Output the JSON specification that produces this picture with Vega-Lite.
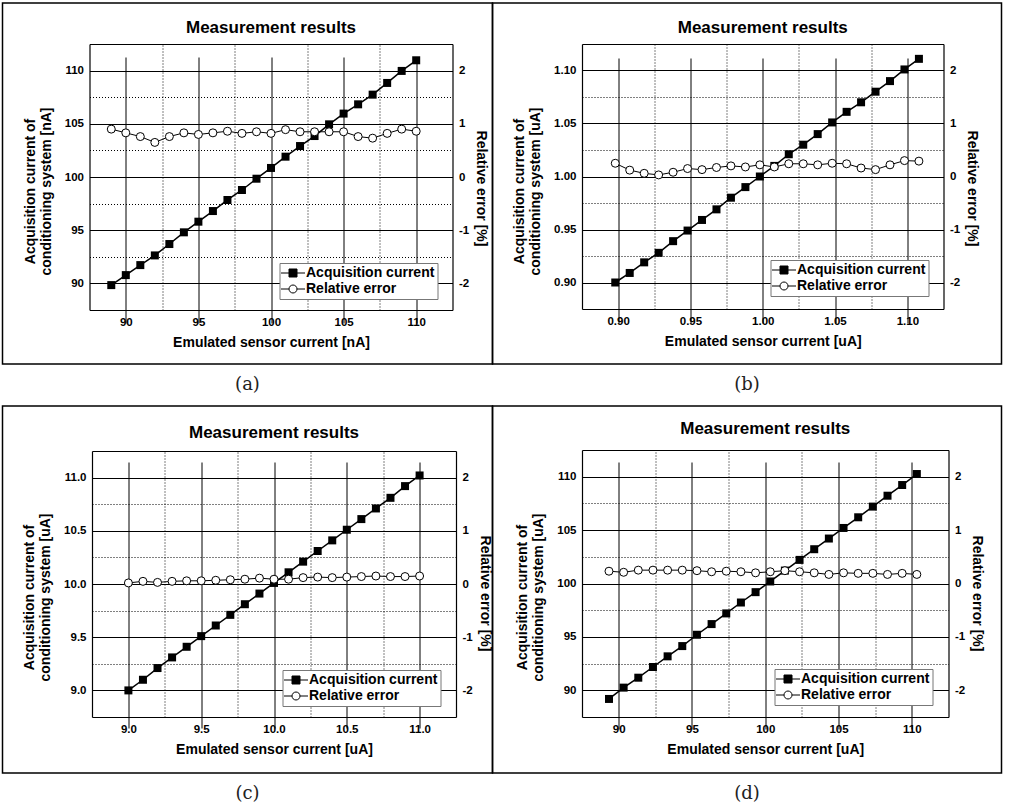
{
  "$schema": "https://vega.github.io/schema/vega-lite/v6.json",
  "padding": {"left": 1.5, "top": 2, "right": 0, "bottom": 0},
  "datasets": {
    "a": [
      {"x": 89, "acq": 89.84, "err": 0.90}, {"x": 90, "acq": 90.78, "err": 0.83}, {"x": 91, "acq": 91.72, "err": 0.76},
      {"x": 92, "acq": 92.63, "err": 0.65}, {"x": 93, "acq": 93.70, "err": 0.76}, {"x": 94, "acq": 94.80, "err": 0.83},
      {"x": 95, "acq": 95.80, "err": 0.80}, {"x": 96, "acq": 96.80, "err": 0.83}, {"x": 97, "acq": 97.84, "err": 0.86},
      {"x": 98, "acq": 98.78, "err": 0.82}, {"x": 99, "acq": 99.84, "err": 0.85}, {"x": 100, "acq": 100.85, "err": 0.82},
      {"x": 101, "acq": 101.91, "err": 0.89}, {"x": 102, "acq": 102.91, "err": 0.85}, {"x": 103, "acq": 103.85, "err": 0.85},
      {"x": 104, "acq": 104.95, "err": 0.85}, {"x": 105, "acq": 105.96, "err": 0.85}, {"x": 106, "acq": 106.83, "err": 0.76},
      {"x": 107, "acq": 107.74, "err": 0.73}, {"x": 108, "acq": 108.84, "err": 0.82}, {"x": 109, "acq": 109.97, "err": 0.90},
      {"x": 110, "acq": 110.97, "err": 0.86}
    ],
    "b": [
      {"x": 0.898, "acq": 0.900, "err": 0.25}, {"x": 0.908, "acq": 0.909, "err": 0.12}, {"x": 0.918, "acq": 0.919, "err": 0.06},
      {"x": 0.928, "acq": 0.928, "err": 0.03}, {"x": 0.938, "acq": 0.939, "err": 0.08}, {"x": 0.948, "acq": 0.949, "err": 0.15},
      {"x": 0.958, "acq": 0.959, "err": 0.13}, {"x": 0.968, "acq": 0.969, "err": 0.17}, {"x": 0.978, "acq": 0.980, "err": 0.20},
      {"x": 0.988, "acq": 0.990, "err": 0.18}, {"x": 0.998, "acq": 1.000, "err": 0.22}, {"x": 1.008, "acq": 1.010, "err": 0.18},
      {"x": 1.018, "acq": 1.021, "err": 0.24}, {"x": 1.028, "acq": 1.030, "err": 0.24}, {"x": 1.038, "acq": 1.040, "err": 0.22},
      {"x": 1.048, "acq": 1.051, "err": 0.25}, {"x": 1.058, "acq": 1.061, "err": 0.24}, {"x": 1.068, "acq": 1.070, "err": 0.16},
      {"x": 1.078, "acq": 1.080, "err": 0.13}, {"x": 1.088, "acq": 1.090, "err": 0.22}, {"x": 1.098, "acq": 1.101, "err": 0.30},
      {"x": 1.108, "acq": 1.111, "err": 0.29}
    ],
    "c": [
      {"x": 9.0, "acq": 9.00, "err": 0.02}, {"x": 9.1, "acq": 9.10, "err": 0.05}, {"x": 9.2, "acq": 9.21, "err": 0.03},
      {"x": 9.3, "acq": 9.31, "err": 0.05}, {"x": 9.4, "acq": 9.41, "err": 0.06}, {"x": 9.5, "acq": 9.51, "err": 0.06},
      {"x": 9.6, "acq": 9.61, "err": 0.07}, {"x": 9.7, "acq": 9.71, "err": 0.08}, {"x": 9.8, "acq": 9.81, "err": 0.09},
      {"x": 9.9, "acq": 9.91, "err": 0.11}, {"x": 10.0, "acq": 10.01, "err": 0.09}, {"x": 10.1, "acq": 10.11, "err": 0.09},
      {"x": 10.2, "acq": 10.21, "err": 0.12}, {"x": 10.3, "acq": 10.31, "err": 0.13}, {"x": 10.4, "acq": 10.41, "err": 0.12},
      {"x": 10.5, "acq": 10.51, "err": 0.13}, {"x": 10.6, "acq": 10.61, "err": 0.14}, {"x": 10.7, "acq": 10.71, "err": 0.15},
      {"x": 10.8, "acq": 10.81, "err": 0.14}, {"x": 10.9, "acq": 10.92, "err": 0.14}, {"x": 11.0, "acq": 11.02, "err": 0.15}
    ],
    "d": [
      {"x": 89.34, "acq": 89.19, "err": 0.23}, {"x": 90.34, "acq": 90.25, "err": 0.21}, {"x": 91.34, "acq": 91.18, "err": 0.25},
      {"x": 92.34, "acq": 92.18, "err": 0.25}, {"x": 93.34, "acq": 93.18, "err": 0.25}, {"x": 94.34, "acq": 94.14, "err": 0.25},
      {"x": 95.34, "acq": 95.20, "err": 0.24}, {"x": 96.34, "acq": 96.20, "err": 0.22}, {"x": 97.34, "acq": 97.20, "err": 0.23},
      {"x": 98.34, "acq": 98.22, "err": 0.22}, {"x": 99.34, "acq": 99.19, "err": 0.20}, {"x": 100.34, "acq": 100.19, "err": 0.22},
      {"x": 101.34, "acq": 101.21, "err": 0.24}, {"x": 102.34, "acq": 102.21, "err": 0.22}, {"x": 103.34, "acq": 103.21, "err": 0.20},
      {"x": 104.34, "acq": 104.21, "err": 0.17}, {"x": 105.34, "acq": 105.20, "err": 0.20}, {"x": 106.34, "acq": 106.20, "err": 0.19},
      {"x": 107.34, "acq": 107.20, "err": 0.19}, {"x": 108.34, "acq": 108.22, "err": 0.17}, {"x": 109.34, "acq": 109.22, "err": 0.19},
      {"x": 110.34, "acq": 110.25, "err": 0.17}
    ],
    "legend": [{"series": "Acquisition current"}, {"series": "Relative error"}]
  },
  "spacing": 0,
  "resolve": {"scale": {"shape": "independent", "fill": "independent", "stroke": "independent"}},
  "vconcat": [
    {
      "spacing": 0, "bounds": "flush",
      "resolve": {"scale": {"shape": "independent", "fill": "independent", "stroke": "independent"}},
      "hconcat": [
        {
          "width": 490, "height": 361,
          "data": {"name": "a"},
          "title": {"text": "Measurement results", "dx": 23.5, "offset": -34},
          "layer": [
            {"mark": {"type": "line", "color": "black", "strokeWidth": 1.5},
             "encoding": {
               "x": {"field": "x", "type": "quantitative", "scale": {"domain": [87.5, 112.5], "range": [87, 450], "nice": false, "zero": false},
                     "axis": {"orient": "bottom", "offset": -54, "values": [90, 95, 100, 105, 110], "grid": true, "title": "Emulated sensor current [nA]"}},
               "y": {"field": "acq", "type": "quantitative", "scale": {"domain": [87.5, 112.5], "range": [307, 41], "nice": false, "zero": false},
                     "axis": {"orient": "left", "offset": -87, "values": [90, 95, 100, 105, 110], "grid": true, "title": ["Acquisition current of", "conditioning system [nA]"], "titleY": 188, "titlePadding": 11}}}},
            {"mark": {"type": "point", "shape": "square", "filled": true, "color": "black", "size": 64, "opacity": 1},
             "encoding": {
               "x": {"field": "x", "type": "quantitative", "scale": {"domain": [87.5, 112.5], "range": [87, 450], "nice": false, "zero": false}, "axis": null},
               "y": {"field": "acq", "type": "quantitative", "scale": {"domain": [87.5, 112.5], "range": [307, 41], "nice": false, "zero": false},
                     "axis": {"orient": "left", "offset": -87, "values": [92.5, 97.5, 102.5, 107.5], "grid": true, "gridDash": [1, 2], "labels": false, "domain": false, "title": null}}}},
            {"mark": {"type": "line", "color": "black", "strokeWidth": 1},
             "encoding": {
               "x": {"field": "x", "type": "quantitative", "scale": {"domain": [87.5, 112.5], "range": [87, 450], "nice": false, "zero": false},
                     "axis": {"orient": "top", "offset": -41, "values": [92.5, 97.5, 102.5, 107.5], "grid": true, "gridDash": [1, 2], "labels": false, "title": null}},
               "y": {"field": "err", "type": "quantitative", "scale": {"domain": [-2.5, 2.5], "range": [307, 41], "nice": false, "zero": false},
                     "axis": {"orient": "right", "offset": -40, "values": [-2, -1, 0, 1, 2], "labelExpr": "'' + datum.value", "grid": false, "title": "Relative error [%]", "titleY": 185, "titlePadding": 5}}}},
            {"mark": {"type": "point", "shape": "circle", "filled": true, "fill": "white", "stroke": "black", "strokeWidth": 1, "size": 64, "opacity": 1},
             "encoding": {
               "x": {"field": "x", "type": "quantitative", "scale": {"domain": [87.5, 112.5], "range": [87, 450], "nice": false, "zero": false}, "axis": null},
               "y": {"field": "err", "type": "quantitative", "scale": {"domain": [-2.5, 2.5], "range": [307, 41], "nice": false, "zero": false}, "axis": null}}},
            {"data": {"name": "legend"},
             "transform": [{"filter": "false"}],
             "mark": {"type": "point", "filled": true, "strokeWidth": 1, "opacity": 1},
             "encoding": {
               "shape": {"field": "series", "type": "nominal", "scale": {"domain": ["Acquisition current", "Relative error"], "range": ["M-3,0H3M-1,-1H1V1H-1Z", "M-3,0H-1M1,0H3M-1,0A1,1,0,1,1,1,0A1,1,0,1,1,-1,0Z"]},
                         "legend": {"orient": "none", "legendX": 277, "legendY": 260, "title": null}},
               "fill": {"field": "series", "type": "nominal", "scale": {"domain": ["Acquisition current", "Relative error"], "range": ["black", "white"]},
                        "legend": {"orient": "none", "legendX": 277, "legendY": 260, "title": null}},
               "stroke": {"field": "series", "type": "nominal", "scale": {"domain": ["Acquisition current", "Relative error"], "range": ["black", "black"]},
                        "legend": {"orient": "none", "legendX": 277, "legendY": 260, "title": null}}}}
          ],
          "resolve": {"scale": {"x": "independent", "y": "independent"}}
        },
        {
          "width": 509, "height": 361,
          "data": {"name": "b"},
          "title": {"text": "Measurement results", "dx": 15.75, "offset": -34},
          "layer": [
            {"mark": {"type": "line", "color": "black", "strokeWidth": 1.5},
             "encoding": {
               "x": {"field": "x", "type": "quantitative", "scale": {"domain": [0.875, 1.125], "range": [89.5, 451], "nice": false, "zero": false},
                     "axis": {"orient": "bottom", "offset": -55, "values": [0.9, 0.95, 1.0, 1.05, 1.1], "format": ".2f", "grid": true, "title": "Emulated sensor current [uA]"}},
               "y": {"field": "acq", "type": "quantitative", "scale": {"domain": [0.875, 1.125], "range": [306, 41], "nice": false, "zero": false},
                     "axis": {"orient": "left", "offset": -89.5, "values": [0.9, 0.95, 1.0, 1.05, 1.1], "format": ".2f", "grid": true, "title": ["Acquisition current of", "conditioning system [uA]"], "titleY": 188, "titlePadding": 11}}}},
            {"mark": {"type": "point", "shape": "square", "filled": true, "color": "black", "size": 64, "opacity": 1},
             "encoding": {
               "x": {"field": "x", "type": "quantitative", "scale": {"domain": [0.875, 1.125], "range": [89.5, 451], "nice": false, "zero": false}, "axis": null},
               "y": {"field": "acq", "type": "quantitative", "scale": {"domain": [0.875, 1.125], "range": [306, 41], "nice": false, "zero": false},
                     "axis": {"orient": "left", "offset": -89.5, "values": [0.925, 0.975, 1.025, 1.075], "grid": true, "gridDash": [1, 2], "labels": false, "domain": false, "title": null}}}},
            {"mark": {"type": "line", "color": "black", "strokeWidth": 1},
             "encoding": {
               "x": {"field": "x", "type": "quantitative", "scale": {"domain": [0.875, 1.125], "range": [89.5, 451], "nice": false, "zero": false},
                     "axis": {"orient": "top", "offset": -41, "values": [0.925, 0.975, 1.025, 1.075], "grid": true, "gridDash": [1, 2], "labels": false, "title": null}},
               "y": {"field": "err", "type": "quantitative", "scale": {"domain": [-2.5, 2.5], "range": [306, 41], "nice": false, "zero": false},
                     "axis": {"orient": "right", "offset": -58, "values": [-2, -1, 0, 1, 2], "labelExpr": "'' + datum.value", "grid": false, "title": "Relative error [%]", "titleY": 185, "titlePadding": 5}}}},
            {"mark": {"type": "point", "shape": "circle", "filled": true, "fill": "white", "stroke": "black", "strokeWidth": 1, "size": 64, "opacity": 1},
             "encoding": {
               "x": {"field": "x", "type": "quantitative", "scale": {"domain": [0.875, 1.125], "range": [89.5, 451], "nice": false, "zero": false}, "axis": null},
               "y": {"field": "err", "type": "quantitative", "scale": {"domain": [-2.5, 2.5], "range": [306, 41], "nice": false, "zero": false}, "axis": null}}},
            {"data": {"name": "legend"},
             "transform": [{"filter": "false"}],
             "mark": {"type": "point", "filled": true, "strokeWidth": 1, "opacity": 1},
             "encoding": {
               "shape": {"field": "series", "type": "nominal", "scale": {"domain": ["Acquisition current", "Relative error"], "range": ["M-3,0H3M-1,-1H1V1H-1Z", "M-3,0H-1M1,0H3M-1,0A1,1,0,1,1,1,0A1,1,0,1,1,-1,0Z"]},
                         "legend": {"orient": "none", "legendX": 278, "legendY": 257, "title": null}},
               "fill": {"field": "series", "type": "nominal", "scale": {"domain": ["Acquisition current", "Relative error"], "range": ["black", "white"]},
                        "legend": {"orient": "none", "legendX": 278, "legendY": 257, "title": null}},
               "stroke": {"field": "series", "type": "nominal", "scale": {"domain": ["Acquisition current", "Relative error"], "range": ["black", "black"]},
                        "legend": {"orient": "none", "legendX": 278, "legendY": 257, "title": null}}}}
          ],
          "resolve": {"scale": {"x": "independent", "y": "independent"}}
        }
      ]
    },
    {
      "spacing": 0, "bounds": "flush",
      "hconcat": [
        {"width": 490, "height": 40, "data": {"values": [{"label": "(a)"}]},
         "mark": {"type": "text", "font": "DejaVu Serif", "fontSize": 18, "color": "#222"},
         "encoding": {"text": {"field": "label", "type": "nominal"}}},
        {"width": 509, "height": 40, "data": {"values": [{"label": "(b)"}]},
         "mark": {"type": "text", "font": "DejaVu Serif", "fontSize": 18, "color": "#222"},
         "encoding": {"text": {"field": "label", "type": "nominal"}}}
      ]
    },
    {
      "spacing": 0, "bounds": "flush",
      "resolve": {"scale": {"shape": "independent", "fill": "independent", "stroke": "independent"}},
      "hconcat": [
        {
          "width": 490, "height": 367,
          "data": {"name": "c"},
          "title": {"text": "Measurement results", "dx": 26.5, "offset": -36},
          "layer": [
            {"mark": {"type": "line", "color": "black", "strokeWidth": 1.5},
             "encoding": {
               "x": {"field": "x", "type": "quantitative", "scale": {"domain": [8.75, 11.25], "range": [89.5, 453.5], "nice": false, "zero": false},
                     "axis": {"orient": "bottom", "offset": -56, "values": [9.0, 9.5, 10.0, 10.5, 11.0], "format": ".1f", "grid": true, "title": "Emulated sensor current [uA]"}},
               "y": {"field": "acq", "type": "quantitative", "scale": {"domain": [8.75, 11.25], "range": [311, 45], "nice": false, "zero": false},
                     "axis": {"orient": "left", "offset": -89.5, "values": [9.0, 9.5, 10.0, 10.5, 11.0], "format": ".1f", "grid": true, "title": ["Acquisition current of", "conditioning system [uA]"], "titleY": 191, "titlePadding": 11}}}},
            {"mark": {"type": "point", "shape": "square", "filled": true, "color": "black", "size": 64, "opacity": 1},
             "encoding": {
               "x": {"field": "x", "type": "quantitative", "scale": {"domain": [8.75, 11.25], "range": [89.5, 453.5], "nice": false, "zero": false}, "axis": null},
               "y": {"field": "acq", "type": "quantitative", "scale": {"domain": [8.75, 11.25], "range": [311, 45], "nice": false, "zero": false},
                     "axis": {"orient": "left", "offset": -89.5, "values": [9.25, 9.75, 10.25, 10.75], "grid": true, "gridDash": [1, 2], "labels": false, "domain": false, "title": null}}}},
            {"mark": {"type": "line", "color": "black", "strokeWidth": 1},
             "encoding": {
               "x": {"field": "x", "type": "quantitative", "scale": {"domain": [8.75, 11.25], "range": [89.5, 453.5], "nice": false, "zero": false},
                     "axis": {"orient": "top", "offset": -45, "values": [9.25, 9.75, 10.25, 10.75], "grid": true, "gridDash": [1, 2], "labels": false, "title": null}},
               "y": {"field": "err", "type": "quantitative", "scale": {"domain": [-2.5, 2.5], "range": [311, 45], "nice": false, "zero": false},
                     "axis": {"orient": "right", "offset": -36.5, "values": [-2, -1, 0, 1, 2], "labelExpr": "'' + datum.value", "grid": false, "title": "Relative error [%]", "titleY": 187, "titlePadding": 5}}}},
            {"mark": {"type": "point", "shape": "circle", "filled": true, "fill": "white", "stroke": "black", "strokeWidth": 1, "size": 64, "opacity": 1},
             "encoding": {
               "x": {"field": "x", "type": "quantitative", "scale": {"domain": [8.75, 11.25], "range": [89.5, 453.5], "nice": false, "zero": false}, "axis": null},
               "y": {"field": "err", "type": "quantitative", "scale": {"domain": [-2.5, 2.5], "range": [311, 45], "nice": false, "zero": false}, "axis": null}}},
            {"data": {"name": "legend"},
             "transform": [{"filter": "false"}],
             "mark": {"type": "point", "filled": true, "strokeWidth": 1, "opacity": 1},
             "encoding": {
               "shape": {"field": "series", "type": "nominal", "scale": {"domain": ["Acquisition current", "Relative error"], "range": ["M-3,0H3M-1,-1H1V1H-1Z", "M-3,0H-1M1,0H3M-1,0A1,1,0,1,1,1,0A1,1,0,1,1,-1,0Z"]},
                         "legend": {"orient": "none", "legendX": 280, "legendY": 264, "title": null}},
               "fill": {"field": "series", "type": "nominal", "scale": {"domain": ["Acquisition current", "Relative error"], "range": ["black", "white"]},
                        "legend": {"orient": "none", "legendX": 280, "legendY": 264, "title": null}},
               "stroke": {"field": "series", "type": "nominal", "scale": {"domain": ["Acquisition current", "Relative error"], "range": ["black", "black"]},
                        "legend": {"orient": "none", "legendX": 280, "legendY": 264, "title": null}}}}
          ],
          "resolve": {"scale": {"x": "independent", "y": "independent"}}
        },
        {
          "width": 509, "height": 367,
          "data": {"name": "d"},
          "title": {"text": "Measurement results", "dx": 18.25, "offset": -32},
          "layer": [
            {"mark": {"type": "line", "color": "black", "strokeWidth": 1.5},
             "encoding": {
               "x": {"field": "x", "type": "quantitative", "scale": {"domain": [87.5, 112.5], "range": [89.5, 456], "nice": false, "zero": false},
                     "axis": {"orient": "bottom", "offset": -56, "values": [90, 95, 100, 105, 110], "grid": true, "title": "Emulated sensor current [uA]"}},
               "y": {"field": "acq", "type": "quantitative", "scale": {"domain": [87.5, 112.5], "range": [311, 44], "nice": false, "zero": false},
                     "axis": {"orient": "left", "offset": -89.5, "values": [90, 95, 100, 105, 110], "grid": true, "title": ["Acquisition current of", "conditioning system [uA]"], "titleY": 191, "titlePadding": 11}}}},
            {"mark": {"type": "point", "shape": "square", "filled": true, "color": "black", "size": 64, "opacity": 1},
             "encoding": {
               "x": {"field": "x", "type": "quantitative", "scale": {"domain": [87.5, 112.5], "range": [89.5, 456], "nice": false, "zero": false}, "axis": null},
               "y": {"field": "acq", "type": "quantitative", "scale": {"domain": [87.5, 112.5], "range": [311, 44], "nice": false, "zero": false},
                     "axis": {"orient": "left", "offset": -89.5, "values": [92.5, 97.5, 102.5, 107.5], "grid": true, "gridDash": [1, 2], "labels": false, "domain": false, "title": null}}}},
            {"mark": {"type": "line", "color": "black", "strokeWidth": 1},
             "encoding": {
               "x": {"field": "x", "type": "quantitative", "scale": {"domain": [87.5, 112.5], "range": [89.5, 456], "nice": false, "zero": false},
                     "axis": {"orient": "top", "offset": -44, "values": [92.5, 97.5, 102.5, 107.5], "grid": true, "gridDash": [1, 2], "labels": false, "title": null}},
               "y": {"field": "err", "type": "quantitative", "scale": {"domain": [-2.5, 2.5], "range": [311, 44], "nice": false, "zero": false},
                     "axis": {"orient": "right", "offset": -53, "values": [-2, -1, 0, 1, 2], "labelExpr": "'' + datum.value", "grid": false, "title": "Relative error [%]", "titleY": 187, "titlePadding": 5}}}},
            {"mark": {"type": "point", "shape": "circle", "filled": true, "fill": "white", "stroke": "black", "strokeWidth": 1, "size": 64, "opacity": 1},
             "encoding": {
               "x": {"field": "x", "type": "quantitative", "scale": {"domain": [87.5, 112.5], "range": [89.5, 456], "nice": false, "zero": false}, "axis": null},
               "y": {"field": "err", "type": "quantitative", "scale": {"domain": [-2.5, 2.5], "range": [311, 44], "nice": false, "zero": false}, "axis": null}}},
            {"data": {"name": "legend"},
             "transform": [{"filter": "false"}],
             "mark": {"type": "point", "filled": true, "strokeWidth": 1, "opacity": 1},
             "encoding": {
               "shape": {"field": "series", "type": "nominal", "scale": {"domain": ["Acquisition current", "Relative error"], "range": ["M-3,0H3M-1,-1H1V1H-1Z", "M-3,0H-1M1,0H3M-1,0A1,1,0,1,1,1,0A1,1,0,1,1,-1,0Z"]},
                         "legend": {"orient": "none", "legendX": 282, "legendY": 263, "title": null}},
               "fill": {"field": "series", "type": "nominal", "scale": {"domain": ["Acquisition current", "Relative error"], "range": ["black", "white"]},
                        "legend": {"orient": "none", "legendX": 282, "legendY": 263, "title": null}},
               "stroke": {"field": "series", "type": "nominal", "scale": {"domain": ["Acquisition current", "Relative error"], "range": ["black", "black"]},
                        "legend": {"orient": "none", "legendX": 282, "legendY": 263, "title": null}}}}
          ],
          "resolve": {"scale": {"x": "independent", "y": "independent"}}
        }
      ]
    },
    {
      "spacing": 0, "bounds": "flush",
      "hconcat": [
        {"width": 490, "height": 39, "data": {"values": [{"label": "(c)"}]},
         "mark": {"type": "text", "font": "DejaVu Serif", "fontSize": 18, "color": "#222"},
         "encoding": {"text": {"field": "label", "type": "nominal"}}},
        {"width": 509, "height": 39, "data": {"values": [{"label": "(d)"}]},
         "mark": {"type": "text", "font": "DejaVu Serif", "fontSize": 18, "color": "#222"},
         "encoding": {"text": {"field": "label", "type": "nominal"}}}
      ]
    }
  ],
  "config": {
    "background": "white",
    "view": {"stroke": "black", "strokeWidth": 1.5},
    "font": "Liberation Sans",
    "title": {"font": "Liberation Sans", "fontSize": 17, "fontWeight": "bold", "color": "black", "anchor": "middle"},
    "axis": {
      "labelFont": "Liberation Sans", "labelFontSize": 11.5, "labelFontWeight": "bold", "labelColor": "black",
      "titleFont": "Liberation Sans", "titleFontSize": 14, "titleFontWeight": "bold", "titleColor": "black",
      "domainColor": "black", "domainWidth": 1.2, "gridColor": "black", "gridOpacity": 1, "gridWidth": 1,
      "grid": true, "ticks": false, "labelPadding": 6, "titlePadding": 8, "labelFlush": false, "labelOverlap": false
    },
    "legend": {
      "labelFont": "Liberation Sans", "labelFontSize": 14, "labelFontWeight": "bold", "labelColor": "black",
      "padding": 3, "strokeColor": "#777", "fillColor": "white", "symbolSize": 64,
      "symbolStrokeColor": "black", "symbolStrokeWidth": 1, "symbolOffset": 3.5, "labelOffset": 6, "rowPadding": 2
    }
  }
}
